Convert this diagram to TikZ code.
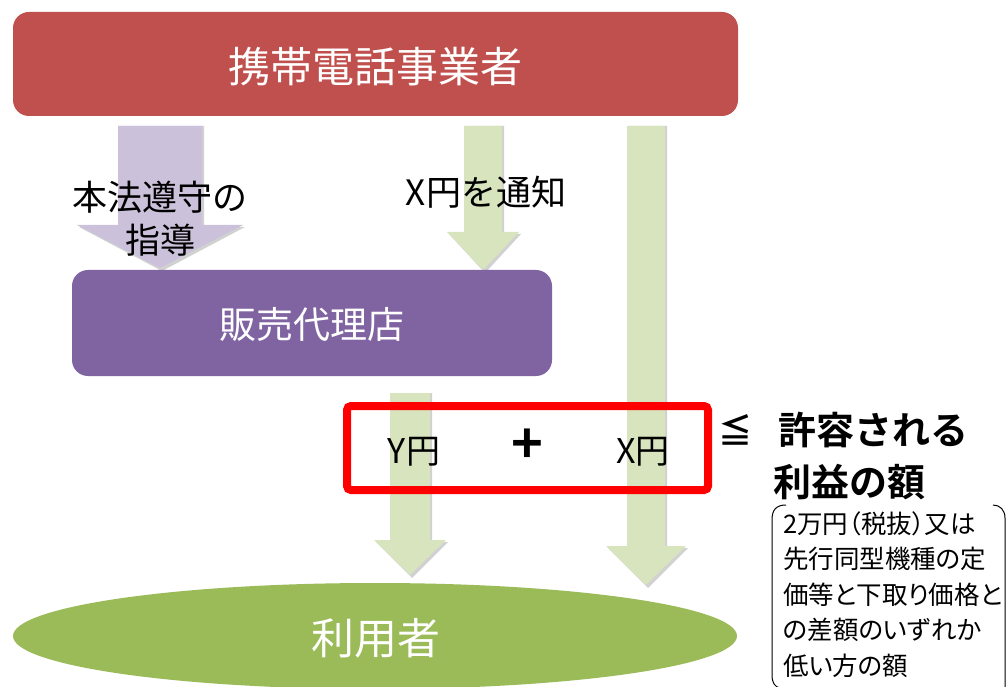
\documentclass[tikz,border=0pt]{standalone}
\usepackage{fontspec}
\setmainfont{Noto Sans CJK JP}
\newfontfamily\jpb{Noto Sans CJK JP Bold}
\newfontfamily\jpp[RawFeature=+palt]{Noto Sans CJK JP}
\usetikzlibrary{shapes.geometric}
\definecolor{topred}{HTML}{C0504D}
\definecolor{boxpurple}{HTML}{8064A2}
\definecolor{lav}{HTML}{CCC1DA}
\definecolor{lgreen}{HTML}{D7E4BD}
\definecolor{ugreen}{HTML}{9BBB59}
\newcommand\fs[1]{\fontsize{#1}{#1}\selectfont}
% color, cx, shaft half, top, headtop, head half, tip
\newcommand\blockarrow[7]{%
  \fill[black!18] ({#2-#3+2},{#4}) -- ({#2+#3+2},{#4}) -- ({#2+#3+2},{#5+2}) -- ({#2+#6+2},{#5+2}) -- ({#2+2},{#7+3}) -- ({#2-#6+2},{#5+2}) -- ({#2-#3+2},{#5+2}) -- cycle;
  \fill[#1] ({#2-#3},{#4}) -- ({#2+#3},{#4}) -- ({#2+#3},{#5}) -- ({#2+#6},{#5}) -- ({#2},{#7}) -- ({#2-#6},{#5}) -- ({#2-#3},{#5}) -- cycle;}
\tikzset{
  boxtext/.style={text=white, inner sep=0pt},
  lbl/.style={text=black, inner sep=0pt, align=center},
}
\begin{document}
\begin{tikzpicture}[x=1pt,y=-1pt]
\useasboundingbox (0,0) rectangle (1007,687);
\fill[white] (0,0) rectangle (1007,687);
% arrows
\blockarrow{lav}{160}{42}{126}{225}{83}{268}
\blockarrow{lgreen}{483}{19}{126}{232}{36}{270}
\blockarrow{lgreen}{646}{19}{126}{546}{40}{585}
\blockarrow{lgreen}{410}{20}{393}{540}{36}{575}
% boxes
\fill[topred, rounded corners=16] (13,12) rectangle (738,116);
\node[boxtext, font=\fs{42}] (top) at (375,67) {携帯電話事業者};
\fill[boxpurple, rounded corners=16] (72,270) rectangle (552,376);
\node[boxtext, font=\fs{37}] (shop) at (312,324) {販売代理店};
\fill[ugreen] (375,636) ellipse [x radius=362, y radius=53];
\node[boxtext, font=\fs{43}] (user) at (376,638) {利用者};
% labels on arrows
\node[lbl, font=\fs{35}] (l1) at (160,197) {本法遵守の};
\node[lbl, font=\fs{35}] (l2) at (160,240) {指導};
\node[lbl, font=\fs{35}] (l3) at (486,192) {X円を通知};
% red box
\draw[red, line width=8, rounded corners=4] (347,406) rectangle (708,490);
\node[lbl, font=\fs{34}] (y) at (414,452) {Y円};
\node[lbl, font=\fs{54}\jpb] (plus) at (527,446) {+};
\node[lbl, font=\fs{34}] (x) at (643,452) {X円};
% right side
\node[lbl, font=\fs{34}\jpb] (le) at (735,430) {≦};
\node[lbl, font=\fs{38}\jpb, anchor=west] (t1) at (778,430) {許容される};
\node[lbl, font=\fs{38}\jpb, anchor=west] (t2) at (773,482) {利益の額};
\node[lbl, font=\jpp\fontsize{25.5}{35.5}\selectfont, align=left, anchor=north west, inner sep=0pt] (note) at (783,511)
  {2万円（税抜）又は\\先行同型機種の定\\価等と下取り価格と\\の差額のいずれか\\低い方の額};
\draw[line width=1] (786,505) .. controls (776,505) and (772,510) .. (772,520) -- (772,675) .. controls (772,683) and (775,687) .. (780,688);
\draw[line width=1] (993,505) .. controls (1000,505) and (1005,510) .. (1005,518) -- (1005,690);
\end{tikzpicture}
\end{document}
